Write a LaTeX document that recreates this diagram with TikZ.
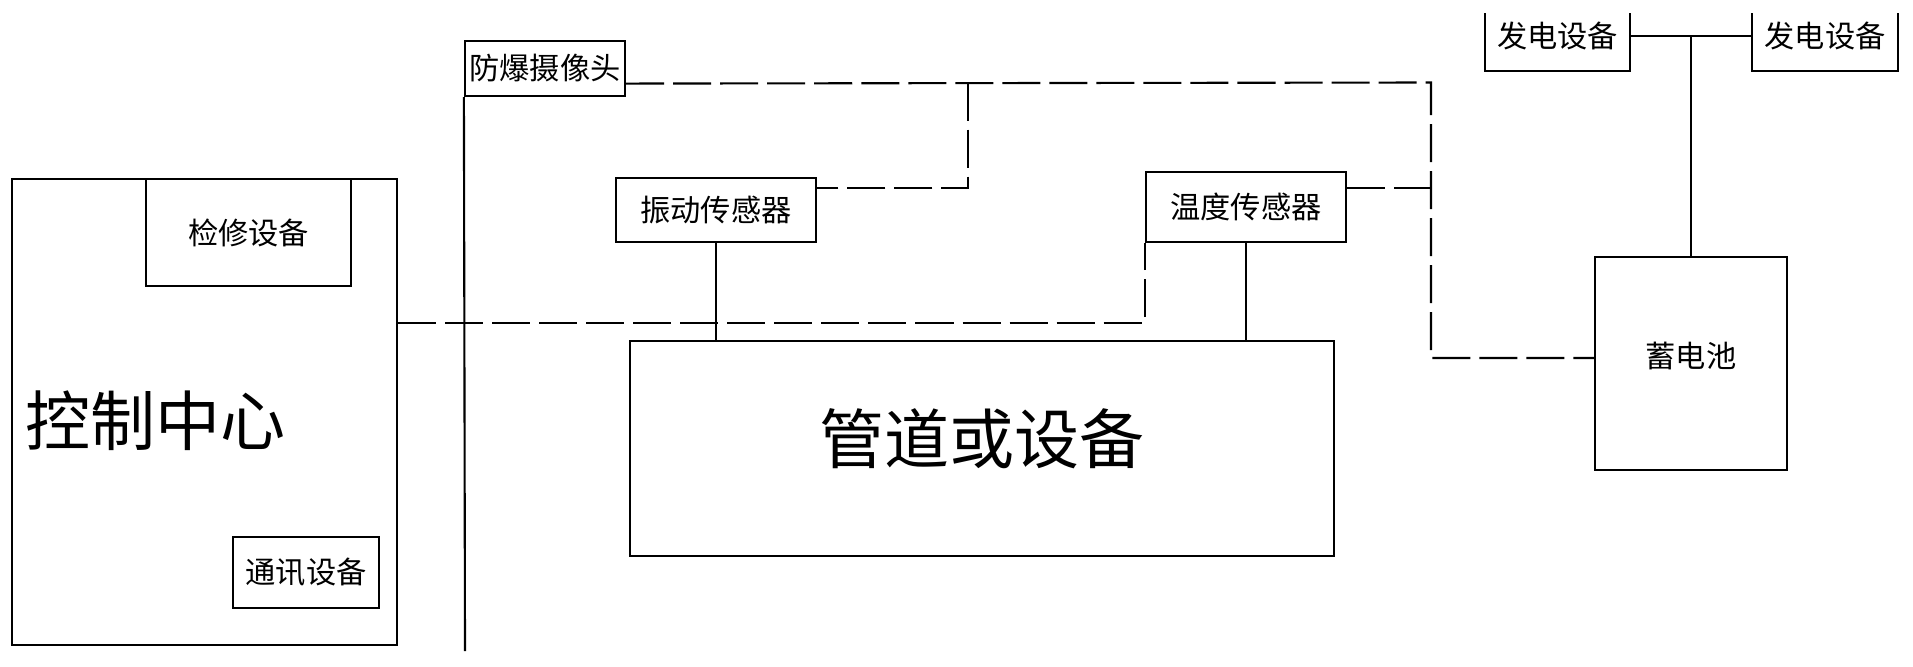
\documentclass[tikz,border=0pt]{standalone}
\usepackage{fontspec}
\setmainfont{Noto Sans CJK SC}
\begin{document}
\begin{tikzpicture}[x=0.01cm, y=-0.01cm, line width=0.6pt,
  devbox/.style={draw, inner sep=0pt, font=\fontsize{8.6}{10}\selectfont},
  bigtext/.style={inner sep=0pt, font=\fontsize{18.5}{22}\selectfont},
  dashlink/.style={dash pattern=on 0.38cm off 0.09cm}]

\useasboundingbox (0,0) rectangle (1913,666);

\node[devbox, minimum width=3.85cm, minimum height=4.66cm] (ctrl) at (204.5,412) {};
\node[bigtext, anchor=west] (ctrltxt) at (24,421) {控制中心};
\node[devbox, minimum width=2.05cm, minimum height=1.07cm] (repair) at (248.5,232.5) {检修设备};
\node[devbox, minimum width=1.46cm, minimum height=0.71cm] (comm) at (306,572.5) {通讯设备};

\node[devbox, minimum width=1.60cm, minimum height=0.55cm] (camera) at (545,68.5) {防爆摄像头};
\node[devbox, minimum width=2.00cm, minimum height=0.64cm] (vib) at (716,210) {振动传感器};
\node[devbox, minimum width=2.00cm, minimum height=0.70cm] (temp) at (1246,207) {温度传感器};
\node[devbox, bigtext, minimum width=7.04cm, minimum height=2.15cm, text height=0.5cm, text depth=0.2cm] (pipe) at (982,448.5) {管道或设备};

\node[devbox, minimum width=1.92cm, minimum height=2.13cm, text height=0.27cm, text depth=0.2cm] (battery) at (1691,363.5) {蓄电池};
\begin{scope}
\clip (0,13) rectangle (1913,666);
\node[devbox, minimum width=1.45cm, minimum height=0.70cm] (gen1) at (1557.5,36) {发电设备};
\node[devbox, minimum width=1.46cm, minimum height=0.70cm] (gen2) at (1825,36) {发电设备};
\end{scope}

\draw (gen1.east) -- (gen2.west);
\draw (battery.north) -- (battery.north |- gen1.east);
\foreach \s in {vib,temp}
\draw (\s.south) -- (\s.south |- pipe.north);
\coordinate (wallend) at (465,651);
\draw (camera.south west) -- (wallend);

\coordinate (bus) at (1431,82.5);
\coordinate (tap) at (968,82.5);
\draw[dashlink] ([yshift=0.135cm]camera.south east) -- (bus) |- ([yshift=0.055cm]battery.west);
\draw[dashlink] ([yshift=0.19cm]temp.east) -- ([yshift=0.19cm]temp.east -| bus);
\draw[dashlink] (tap) |- ([yshift=0.22cm]vib.east);
\draw[dashlink] ([yshift=0.89cm]ctrl.east) -| (temp.south west);

\end{tikzpicture}
\end{document}
